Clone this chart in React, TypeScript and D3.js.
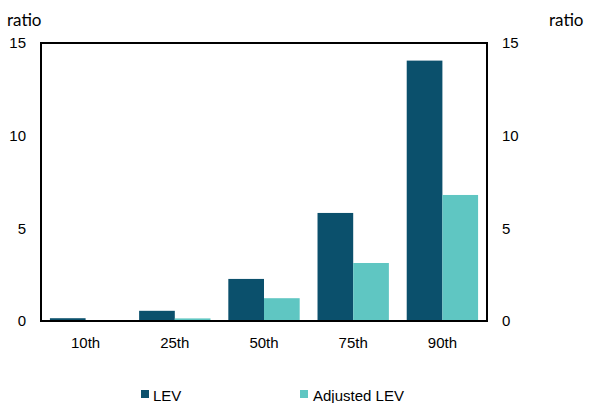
import React from "react";
import * as d3 from "d3";

const categories = ["10th", "25th", "50th", "75th", "90th"];
const levValues = [0.15, 0.55, 2.27, 5.83, 14.05];
const adjValues = [0.02, 0.14, 1.23, 3.13, 6.8];
const yTicks = [0, 5, 10, 15];
const seriesNames = ["LEV", "Adjusted LEV"];
const colors = ["#0b506c", "#5fc6c2"];

export default function App() {
  const W = 590, H = 403;
  const left = 41, right = 487, top = 43, bottom = 321;
  const x = d3.scaleBand<string>().domain(categories).range([left, right]).paddingInner(0.2).paddingOuter(0.1);
  const sub = d3.scaleBand<number>().domain([0, 1]).range([0, x.bandwidth()]);
  const y = d3.scaleLinear().domain([0, 15]).range([bottom, top]);
  const font = "'Liberation Sans', Arial, sans-serif";
  const series = [levValues, adjValues];
  return (
    <svg width={W} height={H} style={{ position: "absolute", left: 0, top: 0 }} fontFamily={font}>
      <rect width={W} height={H} fill="#fff" />
      {series.map((vals, si) =>
        vals.map((v, i) => (
          <rect key={si + "-" + i} x={(x(categories[i]) as number) + (sub(si) as number)} width={sub.bandwidth()}
            y={y(v)} height={y(0) - y(v)} fill={colors[si]} />
        ))
      )}
      <rect x={left} y={top} width={right - left} height={bottom - top} fill="none" stroke="#000" strokeWidth={2} />
      {yTicks.map(t => (
        <g key={t}>
          <text x={26} y={y(t)} dy="0.35em" textAnchor="end" fontSize={15}>{t}</text>
          <text x={502} y={y(t)} dy="0.35em" textAnchor="start" fontSize={15}>{t}</text>
        </g>
      ))}
      <text x={7} y={26} fontSize={17} fontFamily="Lato, sans-serif">ratio</text>
      <text x={549} y={26} fontSize={17} fontFamily="Lato, sans-serif">ratio</text>
      {categories.map(c => (
        <text key={c} x={(x(c) as number) + x.bandwidth() / 2} y={348} textAnchor="middle" fontSize={15}>{c}</text>
      ))}
      <rect x={141} y={390} width={8} height={8} fill={colors[0]} />
      <text x={153} y={401} fontSize={15}>{seriesNames[0]}</text>
      <rect x={300} y={390} width={8} height={8} fill={colors[1]} />
      <text x={313} y={401} fontSize={15}>{seriesNames[1]}</text>
    </svg>
  );
}
